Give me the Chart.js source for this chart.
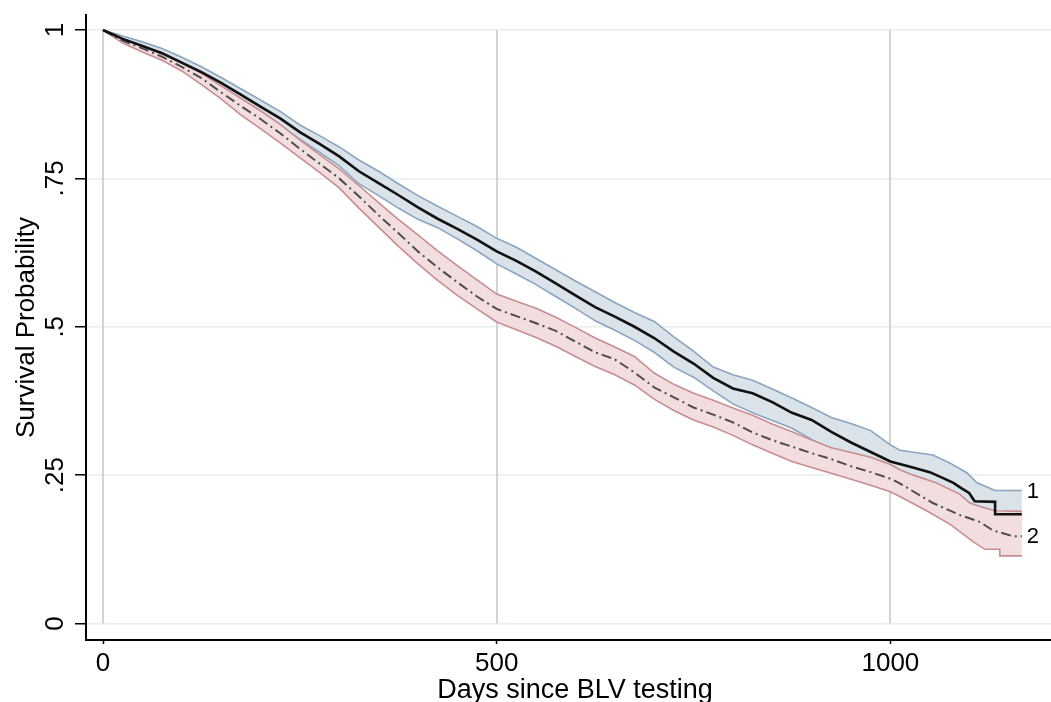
<!DOCTYPE html>
<html>
<head>
<meta charset="utf-8">
<script src="https://cdn.jsdelivr.net/npm/chart.js@4.4.1/dist/chart.umd.min.js"></script>
<style>
  html, body { margin: 0; padding: 0; background: #fff; }
  #wrap { width: 1051px; height: 702px; }
</style>
</head>
<body>
<div id="wrap"><canvas id="km" width="1051" height="702"></canvas></div>
<script>
// days since test on a 25 day grid
const days = [0,25,50,75,100,125,150,175,200,225,250,275,300,325,350,375,400,425,450,475,
              500,525,550,575,600,625,650,675,700,725,750,775,800,825,850,875,900,925,950,975,1000];

// group 1 survival + CI
const surv1 = [1.000,0.985,0.973,0.961,0.945,0.929,0.911,0.891,0.871,0.851,0.828,0.808,0.787,0.762,0.742,0.722,0.701,0.682,0.665,0.647,
               0.627,0.611,0.593,0.573,0.553,0.533,0.517,0.500,0.481,0.458,0.438,0.414,0.396,0.388,0.373,0.355,0.343,0.323,0.305,0.289,0.273];
const upper1 = [1.000,0.990,0.980,0.969,0.954,0.938,0.920,0.901,0.882,0.863,0.840,0.822,0.803,0.781,0.762,0.741,0.721,0.703,0.686,0.669,
                0.649,0.634,0.615,0.596,0.577,0.559,0.541,0.524,0.509,0.483,0.459,0.432,0.419,0.410,0.395,0.380,0.364,0.347,0.337,0.325,0.301];
const lower1 = [1.000,0.980,0.966,0.953,0.936,0.920,0.901,0.880,0.860,0.839,0.816,0.794,0.771,0.741,0.721,0.700,0.681,0.667,0.648,0.628,
                0.606,0.589,0.571,0.551,0.531,0.510,0.494,0.477,0.457,0.432,0.415,0.392,0.370,0.355,0.342,0.329,0.310,0.292,0.278,0.265,0.250];

// group 2 survival + CI
const surv2 = [1.000,0.982,0.969,0.955,0.938,0.919,0.895,0.872,0.850,0.826,0.800,0.775,0.750,0.720,0.688,0.658,0.627,0.600,0.575,0.551,
               0.530,0.518,0.506,0.493,0.475,0.457,0.445,0.423,0.398,0.381,0.364,0.352,0.339,0.322,0.309,0.298,0.287,0.277,0.265,0.255,0.244];
const upper2 = [1.000,0.985,0.974,0.960,0.944,0.927,0.906,0.885,0.864,0.841,0.815,0.790,0.766,0.738,0.709,0.681,0.655,0.628,0.603,0.579,
                0.555,0.543,0.531,0.516,0.499,0.481,0.466,0.450,0.422,0.403,0.388,0.376,0.363,0.351,0.336,0.323,0.309,0.296,0.288,0.280,0.268];
const lower2 = [1.000,0.978,0.963,0.949,0.931,0.908,0.884,0.857,0.834,0.810,0.785,0.760,0.734,0.700,0.668,0.636,0.606,0.578,0.553,0.530,
                0.508,0.495,0.482,0.467,0.450,0.433,0.419,0.402,0.378,0.359,0.343,0.331,0.317,0.301,0.287,0.273,0.263,0.253,0.243,0.233,0.222];

// the last stretch where steps are visible (repeated day = vertical drop)
const surv1TailDays  = [1025,1050,1067,1080,1090,1100,1107,1133,1133,1167];
const surv1Tail      = [0.264,0.255,0.245,0.237,0.228,0.220,0.206,0.205,0.184,0.184];
const upper1TailDays = [1012,1054,1076,1097,1110,1133,1167];
const upper1Tail     = [0.292,0.284,0.270,0.254,0.237,0.224,0.224];
const lower1TailDays = [1025,1050,1075,1100,1133,1133,1167];
const lower1Tail     = [0.240,0.230,0.216,0.195,0.178,0.160,0.160];
const surv2TailDays  = [1012,1054,1088,1114,1130,1156,1167];
const surv2Tail      = [0.236,0.203,0.183,0.171,0.157,0.147,0.147];
const upper2TailDays = [1012,1029,1058,1088,1101,1114,1133,1167];
const upper2Tail     = [0.259,0.250,0.237,0.218,0.203,0.197,0.190,0.189];
const lower2TailDays = [1012,1046,1076,1092,1105,1120,1139,1139,1167];
const lower2Tail     = [0.214,0.190,0.167,0.151,0.138,0.125,0.125,0.114,0.114];

const xTicks = [0, 500, 1000];
const yTicks = [0, 0.25, 0.5, 0.75, 1];
const yTickLabels = ['0', '.25', '.5', '.75', '1'];
const endLabels = ['1', '2'];

const FONT = "'Liberation Sans', Arial, sans-serif";

function pts(xs, ys, tx, ty) {
  const out = xs.map((x, i) => ({ x: x, y: ys[i] }));
  tx.forEach((x, i) => out.push({ x: x, y: ty[i] }));
  return out;
}

const blueFill = '#dae2ea', blueLine = '#8ba5bf';
const pinkFill = '#f2dedf', pinkLine = '#c88d90';

const datasets = [
  { label: 'surv1', data: pts(days, surv1, surv1TailDays, surv1Tail), borderColor: '#111', borderWidth: 2.6, order: 0 },
  { label: 'surv2', data: pts(days, surv2, surv2TailDays, surv2Tail), borderColor: '#4d4d4d', borderWidth: 2,
    borderDash: [10, 4, 2, 4], order: 1 },
  { label: 'upper2', data: pts(days, upper2, upper2TailDays, upper2Tail), borderColor: pinkLine, borderWidth: 1.6, order: 2 },
  { label: 'lower2', data: pts(days, lower2, lower2TailDays, lower2Tail), borderColor: pinkLine, borderWidth: 1.6,
    fill: 2, backgroundColor: pinkFill, order: 3 },
  { label: 'upper1', data: pts(days, upper1, upper1TailDays, upper1Tail), borderColor: blueLine, borderWidth: 1.6, order: 4 },
  { label: 'lower1', data: pts(days, lower1, lower1TailDays, lower1Tail), borderColor: blueLine, borderWidth: 1.6,
    fill: 4, backgroundColor: blueFill, order: 5 }
];
datasets.forEach(d => { d.pointRadius = 0; d.tension = 0; if (d.fill === undefined) d.fill = false; });

// stata-ish vertical grid (only between y=0 and y=1), rotated y labels, curve labels
const extras = {
  id: 'extras',
  beforeDatasetsDraw(chart) {
    const { ctx, scales: { x, y } } = chart;
    ctx.save();
    ctx.strokeStyle = '#d3d3d3';
    ctx.lineWidth = 2;
    xTicks.forEach(v => {
      const px = Math.round(x.getPixelForValue(v));
      ctx.beginPath();
      ctx.moveTo(px, y.getPixelForValue(1));
      ctx.lineTo(px, y.getPixelForValue(0));
      ctx.stroke();
    });
    ctx.restore();
  },
  afterDraw(chart) {
    const { ctx, scales: { x, y } } = chart;
    ctx.save();
    ctx.fillStyle = '#000';
    ctx.font = '26px ' + FONT;
    ctx.textAlign = 'center';
    ctx.textBaseline = 'alphabetic';
    yTicks.forEach((v, i) => {
      ctx.save();
      ctx.translate(63, y.getPixelForValue(v));
      ctx.rotate(-Math.PI / 2);
      ctx.fillText(yTickLabels[i], 0, 0);
      ctx.restore();
    });
    // x title, stata centres it a bit right of the plot box
    ctx.font = '27px ' + FONT;
    ctx.fillText('Days since BLV testing', 575, 698);
    // curve labels sit at the end of upper CI of group 1 and survival line of group 2
    ctx.font = '22px ' + FONT;
    ctx.textAlign = 'left';
    ctx.textBaseline = 'middle';
    [4, 1].forEach((di, i) => {
      const d = chart.data.datasets[di].data;
      const last = d[d.length - 1];
      ctx.fillText(endLabels[i], x.getPixelForValue(last.x) + 5, y.getPixelForValue(last.y) + 1);
    });
    ctx.restore();
  }
};

new Chart(document.getElementById('km'), {
  type: 'line',
  data: { datasets: datasets },
  plugins: [extras],
  options: {
    responsive: false,
    animation: false,
    devicePixelRatio: 1,
    layout: { padding: { top: 15, right: 0, left: 0, bottom: 0 } },
    plugins: { legend: { display: false }, tooltip: { enabled: false } },
    scales: {
      x: {
        type: 'linear',
        min: -21.6,
        max: 1204,
        afterBuildTicks: s => { s.ticks = xTicks.map(v => ({ value: v })); },
        afterFit: s => { s.height = 62; },
        grid: { drawOnChartArea: false, drawTicks: true, tickLength: 4, tickColor: '#000', tickWidth: 1.5 },
        border: { display: true, color: '#000', width: 2 },
        ticks: { color: '#000', font: { family: FONT, size: 26 }, padding: 4, maxRotation: 0,
                 callback: v => String(v) }
      },
      y: {
        type: 'linear',
        min: -0.0278,
        max: 1.0253,
        afterBuildTicks: s => { s.ticks = yTicks.map(v => ({ value: v })); },
        afterFit: s => { s.width = 86; },
        grid: { color: '#e6eef0', lineWidth: 1.5, drawTicks: true, tickLength: 11, tickColor: '#000', tickWidth: 1.5 },
        border: { display: true, color: '#000', width: 2 },
        ticks: { display: false },
        title: { display: true, text: 'Survival Probability', color: '#000',
                 font: { family: FONT, size: 26 }, padding: { top: 11, bottom: 0 } }
      }
    }
  }
});
</script>
</body>
</html>
